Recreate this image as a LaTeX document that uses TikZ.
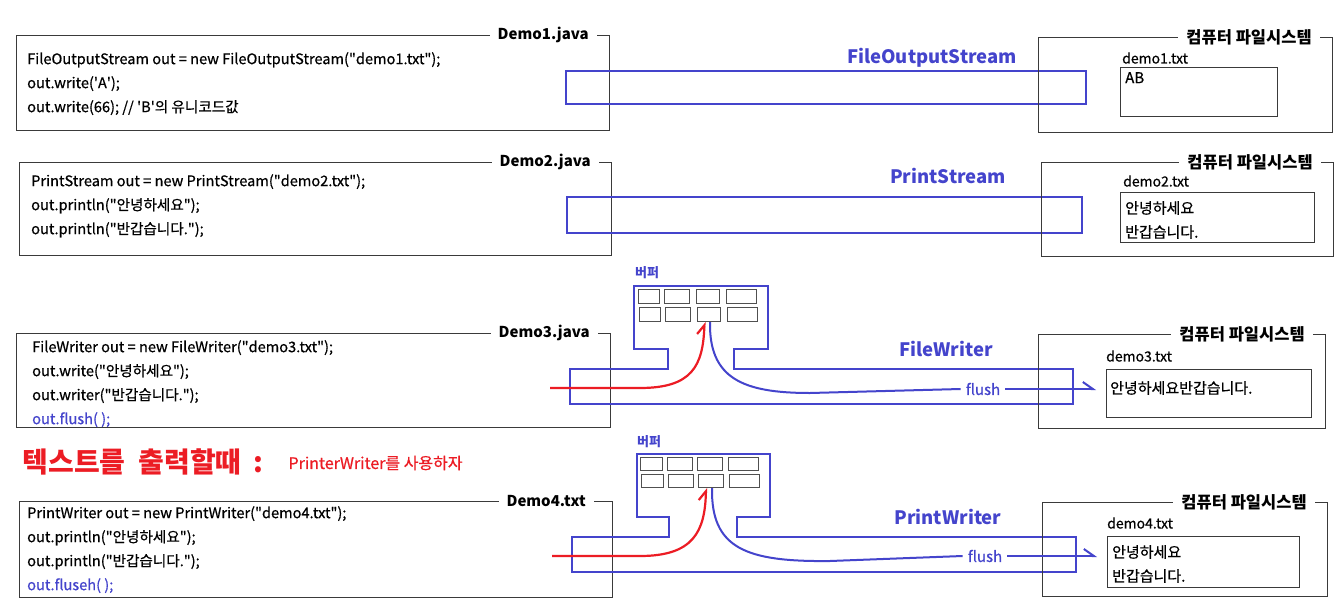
\documentclass[tikz,border=0pt]{standalone}
\usepackage{fontspec}
\setmainfont{Noto Sans CJK KR}
\newfontfamily\thick{Noto Sans CJK KR}[FakeBold=0.6]
\usetikzlibrary{arrows.meta,positioning,calc}
\definecolor{pipe}{HTML}{4444CC}
\definecolor{hot}{HTML}{EC1C24}
\definecolor{frame}{HTML}{3A3A3A}
\definecolor{cell}{HTML}{505050}
\newcommand{\quo}{\textquotedbl}

\begin{document}
\begin{tikzpicture}[x=1pt,y=-1pt,
  frame/.style={draw=frame,line width=0.9pt,anchor=north west,inner sep=0pt},
  ttl/.style={fill=white,anchor=east,inner xsep=8pt,inner ysep=1pt,font=\fontsize{15}{18}\selectfont\bfseries},
  fsttl/.style={ttl,font=\fontsize{16.5}{18}\selectfont\bfseries},
  code/.style={anchor=north west,inner sep=0pt,align=left,font=\thick\fontsize{14.6}{24}\selectfont},
  chan/.style={draw=pipe,line width=2.4pt,anchor=north west,inner sep=0pt},
  pipeline/.style={draw=pipe,line width=2.4pt},
  chlbl/.style={text=pipe,font=\fontsize{18.5}{22}\selectfont\bfseries},
  fname/.style={anchor=west,inner sep=0pt,font=\thick\fontsize{14}{16}\selectfont},
  ftxt/.style={anchor=north west,inner sep=0pt,align=left,font=\thick\fontsize{15}{24}\selectfont},
  cellbox/.style={draw=cell,line width=1pt,anchor=north west,inner sep=0pt,minimum height=14pt},
  bufl/.style={text=pipe,font=\fontsize{13}{15}\selectfont\bfseries},
  flushl/.style={text=pipe,inner xsep=5pt,font=\thick\fontsize{15}{17}\selectfont},
  into/.style={draw=hot,line width=2.2pt,-{Straight Barb[harpoon,length=9pt,width=14pt]}},
  outof/.style={draw=pipe,line width=2pt},
  tofile/.style={draw=pipe,line width=2pt,-{Straight Barb[harpoon,length=10pt,width=14pt]},shorten >=10pt}]
\fill[white] (0,0) rectangle (1341,605);

% Demo1 : FileOutputStream
\node[frame,minimum width=593pt,minimum height=95pt] (d1) at (16,35) {};
\node[ttl] at ([xshift=-13pt]d1.north east) {Demo1.java};
\node[code] (code1) at (27,52) {FileOutputStream out = new FileOutputStream(\quo demo1.txt\quo);\\
  out.write(\textquotesingle A\textquotesingle);\\
  out.write(66); // \textquotesingle B\textquotesingle 의 유니코드값};
\node[chan,minimum width=520pt,minimum height=33pt] (ch1) at (565,70) {};
\node[chlbl] (l1) at (932,58) {FileOutputStream};
\node[frame,minimum width=294pt,minimum height=95pt] (fs1) at (1038,37) {};
\node[fsttl] at ([xshift=-13pt]fs1.north east) {컴퓨터 파일시스템};
\node[fname] (n1) at (1122,58) {demo1.txt};
\node[frame,minimum width=157pt,minimum height=49pt] (f1) at (1120,67) {};
\node[ftxt] at ([shift={(5,5)}]f1.north west) {AB};

% Demo2 : PrintStream
\node[frame,minimum width=592pt,minimum height=93pt] (d2) at (19,162) {};
\node[ttl] at ([xshift=-13pt]d2.north east) {Demo2.java};
\node[code] (code2) at (31,174) {PrintStream out = new PrintStream(\quo demo2.txt\quo);\\
  out.println(\quo 안녕하세요\quo);\\
  out.println(\quo 반갑습니다.\quo);};
\node[chan,minimum width=515pt,minimum height=36pt] (ch2) at (566,196) {};
\node[chlbl] (l2) at (948,176) {PrintStream};
\node[frame,minimum width=292pt,minimum height=94pt] (fs2) at (1041,162) {};
\node[fsttl] at ([xshift=-13pt]fs2.north east) {컴퓨터 파일시스템};
\node[fname] (n2) at (1123,181) {demo2.txt};
\node[frame,minimum width=194pt,minimum height=50pt] (f2) at (1120,192) {};
\node[ftxt] at ([shift={(5,9)}]f2.north west) {안녕하세요\\반갑습니다.};

% Demo3 : FileWriter
\node[frame,minimum width=594pt,minimum height=94pt] (d3) at (16,333) {};
\node[ttl] at ([xshift=-13pt]d3.north east) {Demo3.java};
\node[code] (code3) at (32,340) {FileWriter out = new FileWriter(\quo demo3.txt\quo);\\
  out.write(\quo 안녕하세요\quo);\\
  out.writer(\quo 반갑습니다.\quo);\\
  \textcolor{pipe}{out.flush( );}};
\node[bufl] (bl3) at (647,273) {버퍼};
\draw[pipeline] (570,369) -- (668,369) -- (668,349) -- (634,349) -- (634,286)
  -- (768,286) -- (768,349) -- (734,349) -- (734,369) -- (1073,369) -- (1073,404)
  -- (570,404) -- cycle;
\foreach \i/\x/\w in {1/638/21,2/664/25,3/696/23,4/726/30} {
  \node[cellbox,minimum width=\w pt] (c3a\i) at (\x,289) {};
  \node[cellbox,minimum width=\w pt] (c3b\i) at (\x+1,307) {};
}
\node[chlbl] (l3) at (946,349) {FileWriter};
\node[frame,minimum width=287pt,minimum height=94pt] (fs3) at (1038,334) {};
\node[fsttl] at ([xshift=-13pt]fs3.north east) {컴퓨터 파일시스템};
\node[fname] (n3) at (1106,356) {demo3.txt};
\node[frame,minimum width=205pt,minimum height=48pt] (f3) at (1106,369) {};
\node[ftxt] at ([shift={(4,12)}]f3.north west) {안녕하세요반갑습니다.};
\node[flushl] (flush3) at (983,389) {flush};
\coordinate (src3) at (550,388);
\draw[into] (src3) -- (640,388) .. controls (692,388) and (703,366) .. ([xshift=-4.5pt]c3b3.south);
\draw[outof] ([xshift=1pt]c3b3.south) .. controls (709,378) and (742,393) .. (810,393) -- (flush3.west);
\draw[tofile] (flush3.east) -- (flush3.east -| f3.west);

% Demo4 : PrintWriter
\node[text=hot,anchor=west,font=\fontsize{28}{32}\selectfont\bfseries] (head) at (19,462) {텍스트를\hspace{13pt}출력할때\hspace{12pt}:};
\node[text=hot,anchor=west,font=\thick\fontsize{16}{18}\selectfont] (tip) at (285,463) {PrinterWriter를 사용하자};
\node[frame,minimum width=593pt,minimum height=96pt] (d4) at (19,501) {};
\node[ttl] at ([xshift=-19pt]d4.north east) {Demo4.txt};
\node[code] (code4) at (27,506) {PrintWriter out = new PrintWriter(\quo demo4.txt\quo);\\
  out.println(\quo 안녕하세요\quo);\\
  out.println(\quo 반갑습니다.\quo);\\
  \textcolor{pipe}{out.fluseh( );}};
\node[bufl] (bl4) at (649,442) {버퍼};
\draw[pipeline] (572,537) -- (669,537) -- (669,517) -- (637,517) -- (637,454)
  -- (770,454) -- (770,517) -- (737,517) -- (737,537) -- (1076,537) -- (1076,572)
  -- (572,572) -- cycle;
\foreach \i/\x/\w in {1/640/22,2/667/25,3/697/25,4/728/30} {
  \node[cellbox,minimum width=\w pt,minimum height=13pt] (c4a\i) at (\x,457) {};
  \node[cellbox,minimum width=\w pt,minimum height=13pt] (c4b\i) at (\x+1,474) {};
}
\node[chlbl] (l4) at (948,517) {PrintWriter};
\node[frame,minimum width=285pt,minimum height=94pt] (fs4) at (1042,502) {};
\node[fsttl] at ([xshift=-13pt]fs4.north east) {컴퓨터 파일시스템};
\node[fname] (n4) at (1107,523) {demo4.txt};
\node[frame,minimum width=192pt,minimum height=51pt] (f4) at (1107,536) {};
\node[ftxt] at ([shift={(5,9)}]f4.north west) {안녕하세요\\반갑습니다.};
\node[flushl] (flush4) at (985,556) {flush};
\coordinate (src4) at (552,556);
\draw[into] (src4) -- (640,556) .. controls (693,556) and (705,532) .. ([xshift=-5pt]c4b3.south);
\draw[outof] ([xshift=1pt]c4b3.south) .. controls (711,548) and (745,562) .. (830,561) -- (flush4.west);
\draw[tofile] (flush4.east) -- (flush4.east -| f4.west);
\end{tikzpicture}
\end{document}
